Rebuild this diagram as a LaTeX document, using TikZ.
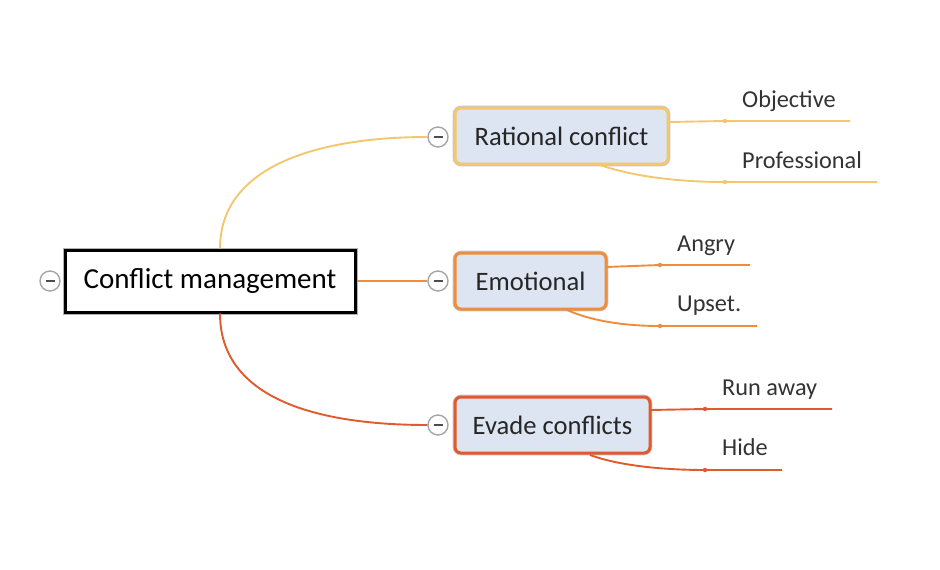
\documentclass[tikz,border=0pt]{standalone}
\usepackage{fontspec}
\setmainfont{Carlito}
\usetikzlibrary{calc}
\definecolor{ybr}{HTML}{F2C76E}
\definecolor{obr}{HTML}{EF8D3C}
\definecolor{rbr}{HTML}{DF5A2C}
\definecolor{boxfill}{HTML}{DCE5F1}
\definecolor{lbl}{HTML}{333333}
\begin{document}
\begin{tikzpicture}[x=1pt,y=-1pt,
  topic/.style={draw, rounded corners=6pt, line width=3pt, fill=boxfill,
    preaction={draw=black!22, line width=4.6pt},
    minimum height=56pt, inner sep=0pt, font=\fontsize{26.6}{28}\selectfont, text=black!85},
  rootbox/.style={draw=black, line width=3pt, fill=white,
    preaction={draw=black!30, line width=5pt},
    minimum width=290pt, minimum height=62pt, inner sep=0pt, font=\fontsize{29}{31}\selectfont},
  toggle/.style={circle, draw=black!35, line width=1.4pt, fill=white, minimum size=20pt, inner sep=0pt,
    path picture={\draw[black!70, line width=1.6pt] ($(path picture bounding box.center)+(-4.5,0)$) -- ($(path picture bounding box.center)+(4.5,0)$);}},
  sublbl/.style={anchor=base west, inner sep=0pt, text=lbl, font=\fontsize{24.3}{26}\selectfont},
  branch/.style={line width=1.9pt},
  dot/.style={circle, fill, inner sep=0pt, minimum size=4.5pt}
]
\useasboundingbox (0,0) rectangle (940,570);

% root
\node[rootbox] (root) at (210,281) {Conflict management};
\node[toggle] (t0) at (50,281) {};

% topics
\node[topic, draw=ybr, minimum width=213pt] (rc) at (561.5,136) {Rational conflict};
\node[topic, draw=obr, minimum width=151pt] (em) at (530.5,281) {Emotional};
\node[topic, draw=rbr, minimum width=195pt] (ev) at (552.5,425) {Evade conflicts};
\node[toggle] (t1) at (438,137) {};
\node[toggle] (t2) at (438,281) {};
\node[toggle] (t3) at (438,425) {};

% main branches
\coordinate (r1) at ($(root.north)+(10,0)$);
\coordinate (r3) at ($(root.south)+(10,0)$);
\draw[branch, ybr] (r1) .. controls (220,165) and (320,137) .. (t1.west);
\draw[branch, obr] (root.east) -- (t2.west);
\draw[branch, rbr] (r3) .. controls (220,400) and (320,425) .. (t3.west);

% rational subbranches
\coordinate (a1) at (668,122); \coordinate (d1) at (725,121); \coordinate (e1) at (850,121);
\coordinate (a2) at (600,165); \coordinate (d2) at (725,182); \coordinate (e2) at (877,182);
\draw[branch, ybr] (a1) -- (d1) -- (e1);
\draw[branch, ybr] (a2) .. controls (635,177) and (680,182) .. (d2) -- (e2);
\node[dot, ybr] (p1) at (d1) {};
\node[dot, ybr] (p2) at (d2) {};
\node[sublbl] (l1) at (742,107) {Objective};
\node[sublbl] (l2) at (742,168) {Professional};

% emotional subbranches
\coordinate (a3) at (606,267); \coordinate (d3) at (660,265); \coordinate (e3) at (750,265);
\coordinate (a4) at (565,309); \coordinate (d4) at (660,326); \coordinate (e4) at (757,326);
\draw[branch, obr] (a3) -- (d3) -- (e3);
\draw[branch, obr] (a4) .. controls (590,321) and (625,326) .. (d4) -- (e4);
\node[dot, obr] (p3) at (d3) {};
\node[dot, obr] (p4) at (d4) {};
\node[sublbl] (l3) at (677,251) {Angry};
\node[sublbl] (l4) at (677,311) {Upset.};

% evade subbranches
\coordinate (a5) at (650,410); \coordinate (d5) at (705,409); \coordinate (e5) at (832,409);
\coordinate (a6) at (590,455); \coordinate (d6) at (705,470); \coordinate (e6) at (782,470);
\draw[branch, rbr] (a5) -- (d5) -- (e5);
\draw[branch, rbr] (a6) .. controls (620,466) and (665,470) .. (d6) -- (e6);
\node[dot, rbr] (p5) at (d5) {};
\node[dot, rbr] (p6) at (d6) {};
\node[sublbl] (l5) at (722,395) {Run away};
\node[sublbl] (l6) at (722,455) {Hide};
\end{tikzpicture}
\end{document}
